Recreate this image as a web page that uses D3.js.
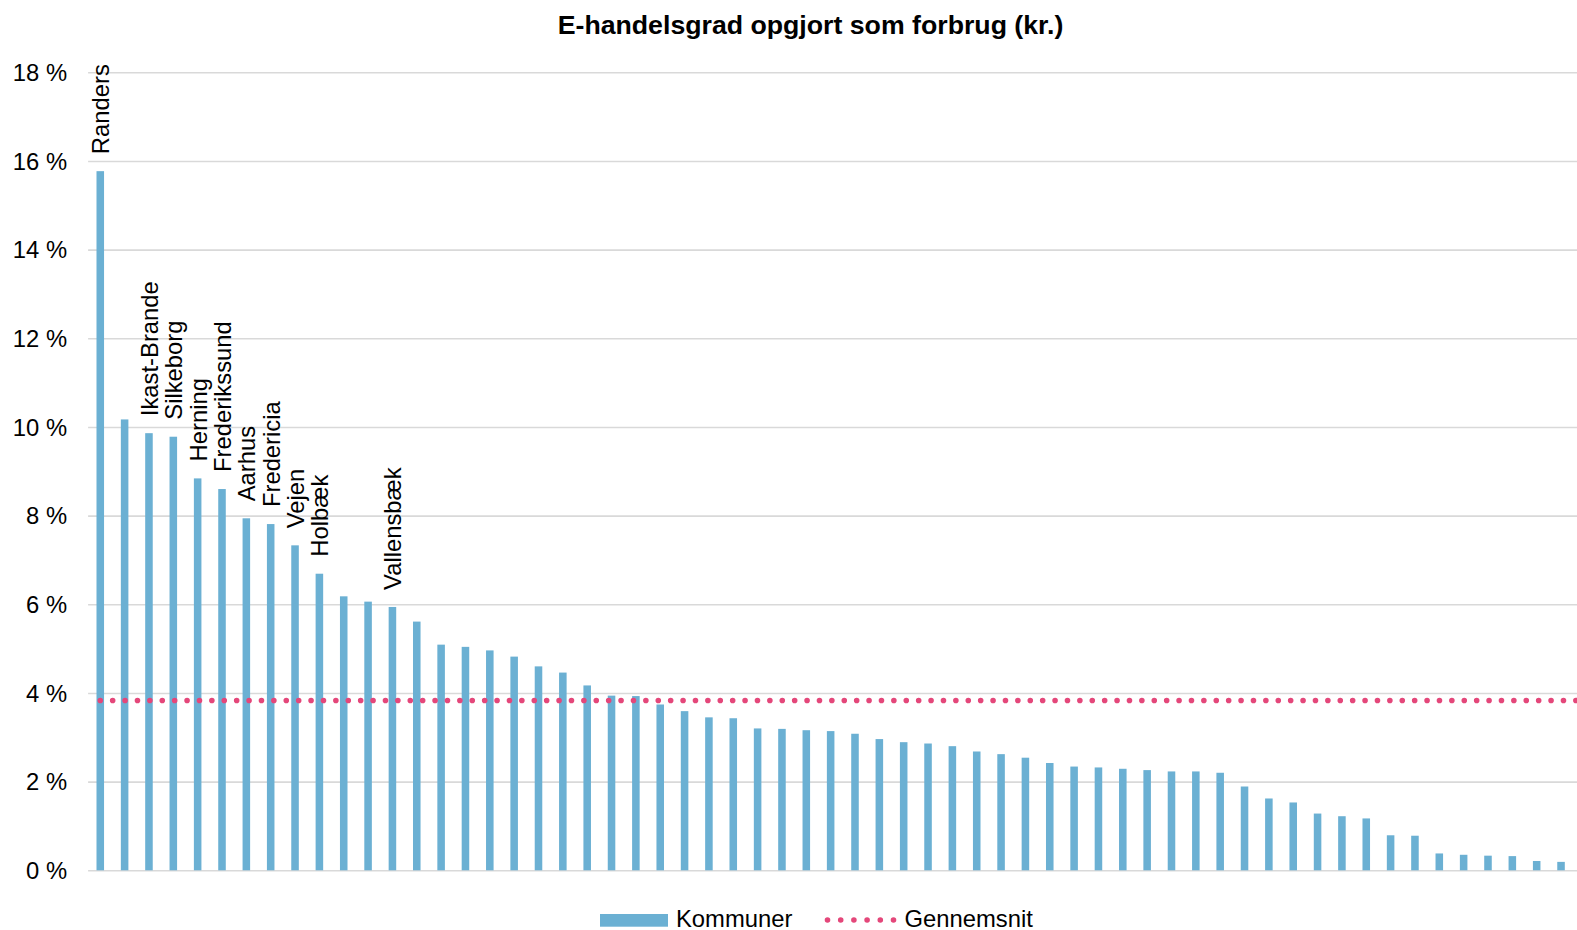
<!DOCTYPE html>
<html>
<head>
<meta charset="utf-8">
<script src="https://cdn.jsdelivr.net/npm/d3@7"></script>
<style>
  html, body { margin: 0; padding: 0; background: #fff; }
  svg { display: block; font-family: "Liberation Sans", Arial, sans-serif; }
</style>
</head>
<body>
<svg id="chart" width="1577" height="930"></svg>
<script>
// ---- Data ----
const title = "E-handelsgrad opgjort som forbrug (kr.)";
const kommuneLabels = [
  "Randers", null, "Ikast-Brande", "Silkeborg", "Herning", "Frederikssund", "Aarhus", "Fredericia", "Vejen", "Holbæk",
  null, null, "Vallensbæk", null, null, null, null, null, null, null,
  null, null, null, null, null, null, null, null, null, null,
  null, null, null, null, null, null, null, null, null, null,
  null, null, null, null, null, null, null, null, null, null,
  null, null, null, null, null, null, null, null, null, null,
  null
];
const kommunerValues = [
  15.77, 10.17, 9.86, 9.78, 8.84, 8.60, 7.94, 7.81, 7.33, 6.69,
  6.18, 6.06, 5.94, 5.61, 5.09, 5.04, 4.96, 4.82, 4.60, 4.46,
  4.17, 3.94, 3.93, 3.74, 3.59, 3.45, 3.43, 3.20, 3.19, 3.16,
  3.14, 3.08, 2.96, 2.89, 2.86, 2.80, 2.68, 2.62, 2.54, 2.42,
  2.34, 2.32, 2.29, 2.26, 2.23, 2.23, 2.20, 1.89, 1.62, 1.53,
  1.28, 1.22, 1.17, 0.79, 0.78, 0.38, 0.35, 0.33, 0.32, 0.21,
  0.19
];
const gennemsnit = 3.83;
const yTicks = [0, 2, 4, 6, 8, 10, 12, 14, 16, 18];
const legendNames = ["Kommuner", "Gennemsnit"];

// ---- Layout ----
const barColor = "#6BB0D3";
const avgColor = "#E4477A";
const gridColor = "#D9D9D9";
const fontSize = 23.8;
const plotLeft = 88.1, plotRight = 1573.2, gridRight = 1577;
const plotTop = 72.3, plotBottom = 870.3;

const svg = d3.select("#chart");

const x = d3.scaleBand()
  .domain(d3.range(kommunerValues.length))
  .range([plotLeft, plotRight])
  .paddingInner(0.69)
  .paddingOuter(0.345);

const y = d3.scaleLinear().domain([0, 18]).range([plotBottom, plotTop]);

// Title
svg.append("text")
  .attr("x", 810.5).attr("y", 33.5)
  .attr("text-anchor", "middle")
  .attr("font-size", 26.7).attr("font-weight", "bold")
  .attr("fill", "#000")
  .text(title);

// Y axis with gridlines
const yAxis = d3.axisLeft(y)
  .tickValues(yTicks)
  .tickSize(-(gridRight - plotLeft))
  .tickPadding(21)
  .tickFormat(d => d + " %");

const gy = svg.append("g")
  .attr("transform", `translate(${plotLeft},0)`)
  .call(yAxis);
gy.select(".domain").remove();
gy.selectAll(".tick line").attr("stroke", gridColor).attr("stroke-width", 1.6);
gy.selectAll(".tick text")
  .attr("font-size", fontSize)
  .attr("font-family", "Liberation Sans, Arial, sans-serif")
  .attr("fill", "#000")
  .attr("dy", "0.35em");

// Bars
svg.append("g").selectAll("rect")
  .data(kommunerValues)
  .join("rect")
  .attr("x", (d, i) => x(i))
  .attr("width", x.bandwidth())
  .attr("y", d => y(d))
  .attr("height", d => y(0) - y(d))
  .attr("fill", barColor);

// Bar labels (rotated)
svg.append("g").selectAll("text")
  .data(kommunerValues.map((v, i) => ({ v, i, name: kommuneLabels[i] })).filter(d => d.name))
  .join("text")
  .attr("transform", d => `translate(${x(d.i) + x.bandwidth() / 2 + 9},${y(d.v) - 17}) rotate(-90)`)
  .attr("text-anchor", "start")
  .attr("font-size", fontSize)
  .attr("fill", "#000")
  .text(d => d.name);

// Average dotted line
const x0 = x(0) + x.bandwidth() / 2;
svg.append("line")
  .attr("x1", x0).attr("x2", gridRight + 6)
  .attr("y1", y(gennemsnit)).attr("y2", y(gennemsnit))
  .attr("stroke", avgColor)
  .attr("stroke-width", 5.6)
  .attr("stroke-linecap", "round")
  .attr("stroke-dasharray", "0 12.4");

// Legend
const lg = svg.append("g");
lg.append("rect")
  .attr("x", 600).attr("y", 914).attr("width", 68).attr("height", 12.7)
  .attr("fill", barColor);
lg.append("text")
  .attr("x", 676).attr("y", 926.5)
  .attr("font-size", fontSize).attr("fill", "#000")
  .text(legendNames[0]);
const legendDotGap = 13.2;
lg.append("line")
  .attr("x1", 827.5).attr("x2", 827.5 + legendDotGap * 5 + 1)
  .attr("y1", 920).attr("y2", 920)
  .attr("stroke", avgColor)
  .attr("stroke-width", 5.6)
  .attr("stroke-linecap", "round")
  .attr("stroke-dasharray", `0 ${legendDotGap}`);
lg.append("text")
  .attr("x", 904.5).attr("y", 926.5)
  .attr("font-size", fontSize).attr("fill", "#000")
  .text(legendNames[1]);
</script>
</body>
</html>
